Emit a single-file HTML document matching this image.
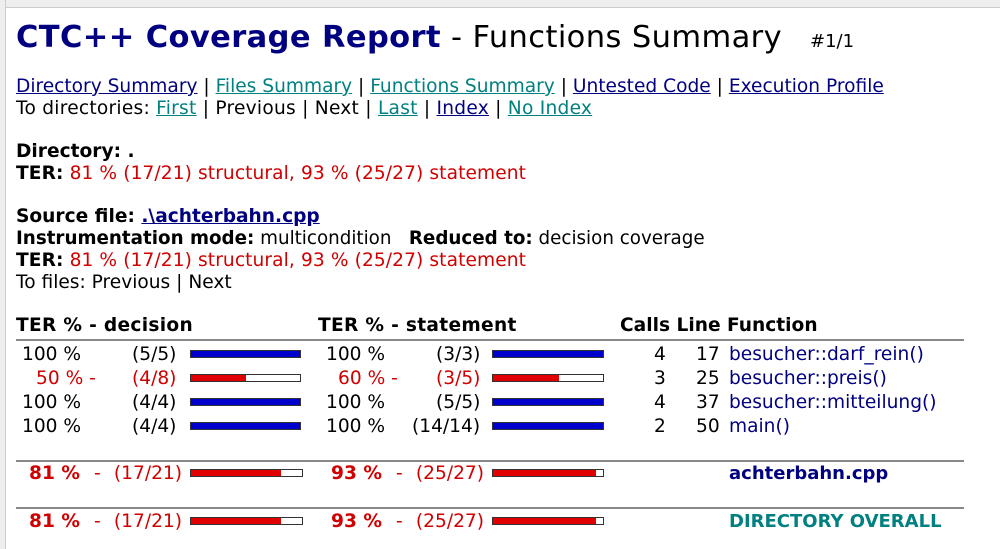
<!DOCTYPE html>
<html><head><meta charset="utf-8"><style>
body{margin:0;width:1000px;height:549px;overflow:hidden;background:#fff;font-family:"DejaVu Sans","Liberation Sans",sans-serif;font-size:18.6px;color:#000;position:relative}
.a{position:absolute;white-space:nowrap;line-height:22px}
.t{color:#008080;text-decoration:underline}
.n{color:#000080;text-decoration:underline}
.r{color:#d00000}
b{font-weight:bold}
.h b{letter-spacing:0.3px}
.bar{position:absolute;height:6px;border:1px solid #333;background:#fff}
.bar i{position:absolute;left:0;top:0;bottom:0}
.hl{position:absolute;height:2px;background:#888}
.re{text-align:right}
</style></head><body>
<div style="position:absolute;left:0;top:0;width:1000px;height:7px;background:#eee;border-bottom:1px solid #ccc"></div>
<div style="position:absolute;left:0;top:0;width:5px;height:549px;background:#eee;border-right:1px solid #ccc"></div>
<div class="a" style="left:16px;top:20px;line-height:36px;font-size:30.5px;letter-spacing:0.4px"><b style="color:#000080">CTC++ Coverage Report</b> - Functions Summary</div>
<div class="a" style="left:810px;top:31px;font-size:18px">#1/1</div>
<div class="a" style="left:16px;top:76px"><span class="n">Directory Summary</span> | <span class="t">Files Summary</span> | <span class="t">Functions Summary</span> | <span class="n">Untested Code</span> | <span class="n">Execution Profile</span></div>
<div class="a" style="left:16px;top:98px;letter-spacing:0.25px">To directories: <span class="t">First</span> | Previous | Next | <span class="t">Last</span> | <span class="n">Index</span> | <span class="t">No Index</span></div>
<div class="a" style="left:16px;top:141px"><b>Directory: .</b></div>
<div class="a" style="left:16px;top:163px;letter-spacing:0.1px"><b>TER:</b> <span class="r">81 % (17/21) structural, 93 % (25/27) statement</span></div>
<div class="a" style="left:16px;top:206px"><b>Source file: <span class="n">.\achterbahn.cpp</span></b></div>
<div class="a" style="left:16px;top:228px;font-size:18.3px"><b>Instrumentation mode:</b> multicondition &nbsp; <b>Reduced to:</b> decision coverage</div>
<div class="a" style="left:16px;top:250px;letter-spacing:0.1px"><b>TER:</b> <span class="r">81 % (17/21) structural, 93 % (25/27) statement</span></div>
<div class="a" style="left:16px;top:272px">To files: Previous | Next</div>
<div class="a h" style="left:16px;top:315px"><b>TER % - decision</b></div>
<div class="a h" style="left:318px;top:315px"><b>TER % - statement</b></div>
<div class="a h" style="left:620px;top:315px"><b style="letter-spacing:0">Calls Line Function</b></div>
<div class="hl" style="left:16px;top:339px;width:948px"></div>
<div class="a" style="left:22px;top:344px">100 %</div><div class="a" style="left:132px;top:344px">(5/5)</div><div class="bar" style="left:190px;top:350px;width:109px"><i style="right:0;background:#0000cc"></i></div>
<div class="a" style="left:326px;top:344px">100 %</div><div class="a" style="left:436px;top:344px">(3/3)</div><div class="bar" style="left:492px;top:350px;width:110px"><i style="right:0;background:#0000cc"></i></div>
<div class="a" style="left:654px;top:344px">4</div><div class="a" style="left:696px;top:344px">17</div><div class="a" style="left:729px;top:344px;color:#000080">besucher::darf_rein()</div>

<div class="a r" style="left:36px;top:368px">50 % -</div><div class="a r" style="left:132px;top:368px">(4/8)</div><div class="bar" style="left:190px;top:374px;width:109px"><i style="width:55px;background:#e00000"></i></div>
<div class="a r" style="left:338px;top:368px">60 % -</div><div class="a r" style="left:436px;top:368px">(3/5)</div><div class="bar" style="left:492px;top:374px;width:110px"><i style="width:66px;background:#e00000"></i></div>
<div class="a" style="left:654px;top:368px">3</div><div class="a" style="left:696px;top:368px">25</div><div class="a" style="left:729px;top:368px;color:#000080">besucher::preis()</div>

<div class="a" style="left:22px;top:392px">100 %</div><div class="a" style="left:132px;top:392px">(4/4)</div><div class="bar" style="left:190px;top:398px;width:109px"><i style="right:0;background:#0000cc"></i></div>
<div class="a" style="left:326px;top:392px">100 %</div><div class="a" style="left:436px;top:392px">(5/5)</div><div class="bar" style="left:492px;top:398px;width:110px"><i style="right:0;background:#0000cc"></i></div>
<div class="a" style="left:654px;top:392px">4</div><div class="a" style="left:696px;top:392px">37</div><div class="a" style="left:729px;top:392px;color:#000080">besucher::mitteilung()</div>

<div class="a" style="left:22px;top:416px">100 %</div><div class="a" style="left:132px;top:416px">(4/4)</div><div class="bar" style="left:190px;top:422px;width:109px"><i style="right:0;background:#0000cc"></i></div>
<div class="a" style="left:326px;top:416px">100 %</div><div class="a" style="left:412px;top:416px">(14/14)</div><div class="bar" style="left:492px;top:422px;width:110px"><i style="right:0;background:#0000cc"></i></div>
<div class="a" style="left:654px;top:416px">2</div><div class="a" style="left:696px;top:416px">50</div><div class="a" style="left:729px;top:416px;color:#000080">main()</div>

<div class="hl" style="left:16px;top:460px;width:948px"></div>
<div class="a r" style="left:29px;top:463px"><b>81 %</b></div><div class="a r" style="left:94px;top:463px">-</div><div class="a r re" style="left:100px;width:82px;top:463px">(17/21)</div>
<div class="bar" style="left:190px;top:469px;width:111px"><i style="width:90px;background:#e00000"></i></div>
<div class="a r" style="left:331px;top:463px"><b>93 %</b></div><div class="a r" style="left:396px;top:463px">-</div><div class="a r re" style="left:400px;width:84px;top:463px">(25/27)</div>
<div class="bar" style="left:492px;top:469px;width:110px"><i style="width:103px;background:#e00000"></i></div>
<div class="a" style="left:729px;top:463px;color:#000080;font-size:18px"><b>achterbahn.cpp</b></div>

<div class="hl" style="left:16px;top:507px;width:948px"></div>
<div class="a r" style="left:29px;top:511px"><b>81 %</b></div><div class="a r" style="left:94px;top:511px">-</div><div class="a r re" style="left:100px;width:82px;top:511px">(17/21)</div>
<div class="bar" style="left:190px;top:517px;width:111px"><i style="width:90px;background:#e00000"></i></div>
<div class="a r" style="left:331px;top:511px"><b>93 %</b></div><div class="a r" style="left:396px;top:511px">-</div><div class="a r re" style="left:400px;width:84px;top:511px">(25/27)</div>
<div class="bar" style="left:492px;top:517px;width:110px"><i style="width:103px;background:#e00000"></i></div>
<div class="a" style="left:729px;top:511px;color:#008080;font-size:18px"><b>DIRECTORY OVERALL</b></div>
</body></html>
